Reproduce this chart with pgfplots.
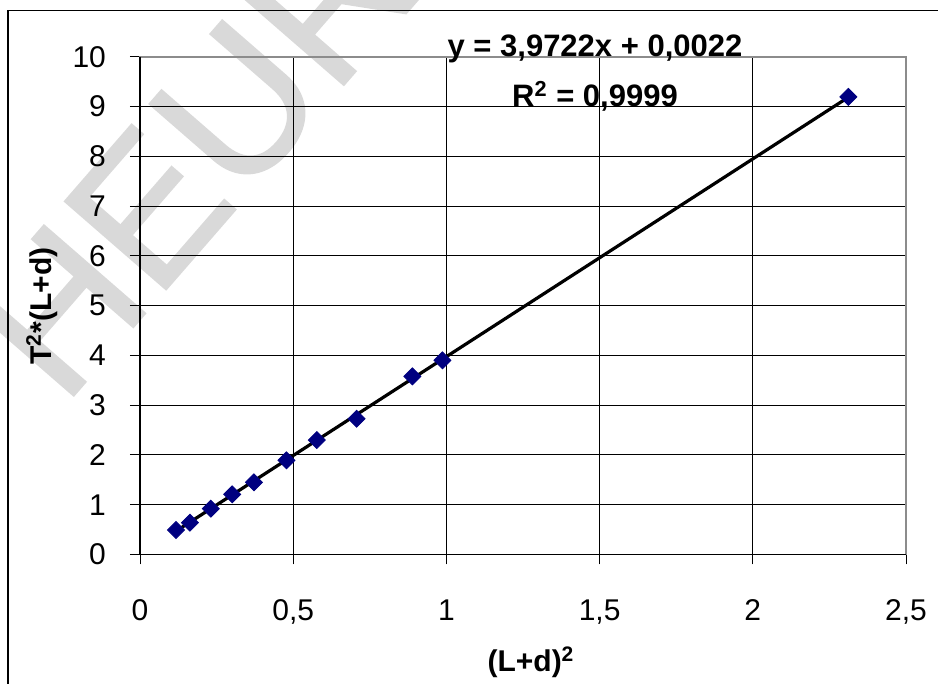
\documentclass[border=0pt]{standalone}
\usepackage{fontspec}
\setmainfont{Liberation Sans}
\newfontfamily\wmfont[FakeBold=1]{Liberation Sans}
\usepackage{pgfplots}
\pgfplotsset{compat=1.18}
\definecolor{wmgray}{RGB}{217,217,217}
\definecolor{navy}{RGB}{0,0,128}
\definecolor{framegray}{RGB}{140,140,140}
\begin{document}
\begin{tikzpicture}
\path[use as bounding box] (0,0) rectangle (469pt,342pt);
\clip (0,0) rectangle (469pt,342pt);
% watermark behind everything
\node[wmgray, rotate=49, inner sep=0pt, font=\wmfont\fontsize{97.5}{97.5}\selectfont, anchor=base west] at (31.5pt,138pt) {HEUR};
\draw[black, line width=0.6pt] (4pt,-10pt) rectangle (480pt,336.6pt);
\begin{axis}[
  at={(70pt,64.75pt)}, anchor=south west,
  scale only axis, width=383pt, height=248.9pt,
  xmin=0, xmax=2.5, ymin=0, ymax=10,
  xtick={0,0.5,1,1.5,2,2.5}, ytick={0,1,2,3,4,5,6,7,8,9,10},
  grid=major, grid style={black, line width=0.5pt},
  axis line style={framegray, line width=0.9pt},
  tick align=outside, tick pos=left, major tick length=5pt,
  tick style={black, line width=0.5pt},
  /pgf/number format/use comma,
  /pgf/number format/assume math mode=true,
  tick label style={font=\fontsize{15}{18}\selectfont},
  xticklabel style={yshift=-14pt},
  yticklabel style={xshift=-8.5pt},
  clip=false,
]
\addplot[only marks, mark=square*, mark size=3pt,
  mark options={rotate=45, draw=navy, fill=navy}] coordinates {
  (0.1175,0.492) (0.163,0.639) (0.231,0.920) (0.301,1.209) (0.372,1.450)
  (0.478,1.892) (0.577,2.299) (0.707,2.727) (0.889,3.578) (0.987,3.900)
  (2.312,9.193)
};
% linear trendline y = 3.9722x + 0.0022
\addplot[black, line width=1.6pt] coordinates {(0.1175,0.469) (2.312,9.186)};
\draw[black, line width=0.8pt] (rel axis cs:0,1) -- (rel axis cs:0,0) -- (rel axis cs:1,0);
\end{axis}
\node[font=\bfseries\fontsize{15.5}{18}\selectfont, anchor=base] at (297.5pt,313.5pt) {y = 3,9722x + 0,0022};
\node[font=\bfseries\fontsize{15.5}{18}\selectfont, anchor=base] at (297.5pt,288.5pt) {R\textsuperscript{2} = 0,9999};
\node[font=\bfseries\fontsize{15}{18}\selectfont, anchor=base] at (265.5pt,6pt) {(L+d)\textsuperscript{2}};
\node[font=\bfseries\fontsize{15}{18}\selectfont, rotate=90, anchor=center] at (21pt,189pt) {T\textsuperscript{2}*(L+d)};
\end{tikzpicture}
\end{document}
